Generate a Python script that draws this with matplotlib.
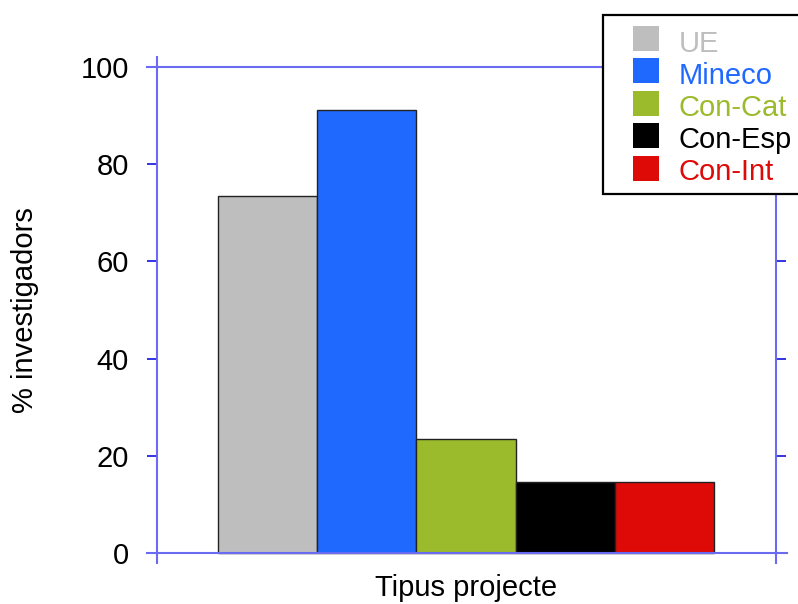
#
# % investigadors per tipus de projecte
#
import matplotlib
matplotlib.use('Agg')
import matplotlib.pyplot as plt
from matplotlib.patches import Rectangle

plt.rcParams['font.family'] = ['Liberation Sans', 'DejaVu Sans']

categories = ['UE', 'Mineco', 'Con-Cat', 'Con-Esp', 'Con-Int']
values = [73.5, 91.2, 23.5, 14.6, 14.6]
colors = ['#bebebe', '#2069ff', '#9bba2c', '#000000', '#dd0a08']
yticks = [0, 20, 40, 60, 80, 100]

W, H = 798, 604
axis_blue = '#6b6bf2'
tick_blue = '#1010e0'
fs = 21

fig = plt.figure(figsize=(W / 100, H / 100), dpi=100)
ax = fig.add_axes([157 / W, 1 - 563 / H, (776 - 157) / W, (563 - 57) / H])

xs = list(range(len(categories)))
ax.bar(xs, values, width=1.0, color=colors, edgecolor='#222222', linewidth=1.0, zorder=2)

ax.set_xlim(-1.115, 5.125)
ax.set_ylim(-2.06, 102.06)

for s in ['top', 'bottom']:
    ax.spines[s].set_visible(False)
for s in ['left', 'right']:
    ax.spines[s].set_color(axis_blue)
    ax.spines[s].set_linewidth(1.5)

# linies horitzontals a 0 i 100 (sobresurten de l'eix)
for yv in (0, 100):
    ax.axhline(yv, xmin=-10 / 619, xmax=1 + 11 / 619, color=axis_blue, lw=1.5, clip_on=False, zorder=3)

ax.set_xticks([])
ax.set_yticks(yticks)
ax.tick_params(axis='y', direction='out', length=7.2, width=1.2, color=tick_blue,
               right=True, labelright=False, labelsize=fs, pad=13)

ax.set_xlabel('Tipus projecte', fontsize=fs)
ax.xaxis.set_label_coords(0.5, -(596 - 563) / 506)
ax.xaxis.label.set_va('baseline')
ax.set_ylabel('% investigadors', fontsize=fs)
ax.yaxis.set_label_coords(-0.19, 0.5)

# llegenda feta a ma
def fx(px):
    return px / W

def fy(py):
    return 1 - py / H

fig.patches.append(Rectangle((fx(603), fy(194)), fx(240), (194 - 15) / H, transform=fig.transFigure,
                             facecolor='white', edgecolor='black', linewidth=1.6, zorder=5))
for i, (lab, c) in enumerate(zip(categories, colors)):
    top = 26 + 32.4 * i
    fig.patches.append(Rectangle((fx(633), fy(top + 25)), 26 / W, 25 / H, transform=fig.transFigure,
                                 facecolor=c, edgecolor='none', zorder=6))
    fig.text(fx(679), fy(51.5 + 32.1 * i), lab, color=c, fontsize=fs, va='baseline', ha='left', zorder=7)

fig.savefig('out.png', dpi=100)
